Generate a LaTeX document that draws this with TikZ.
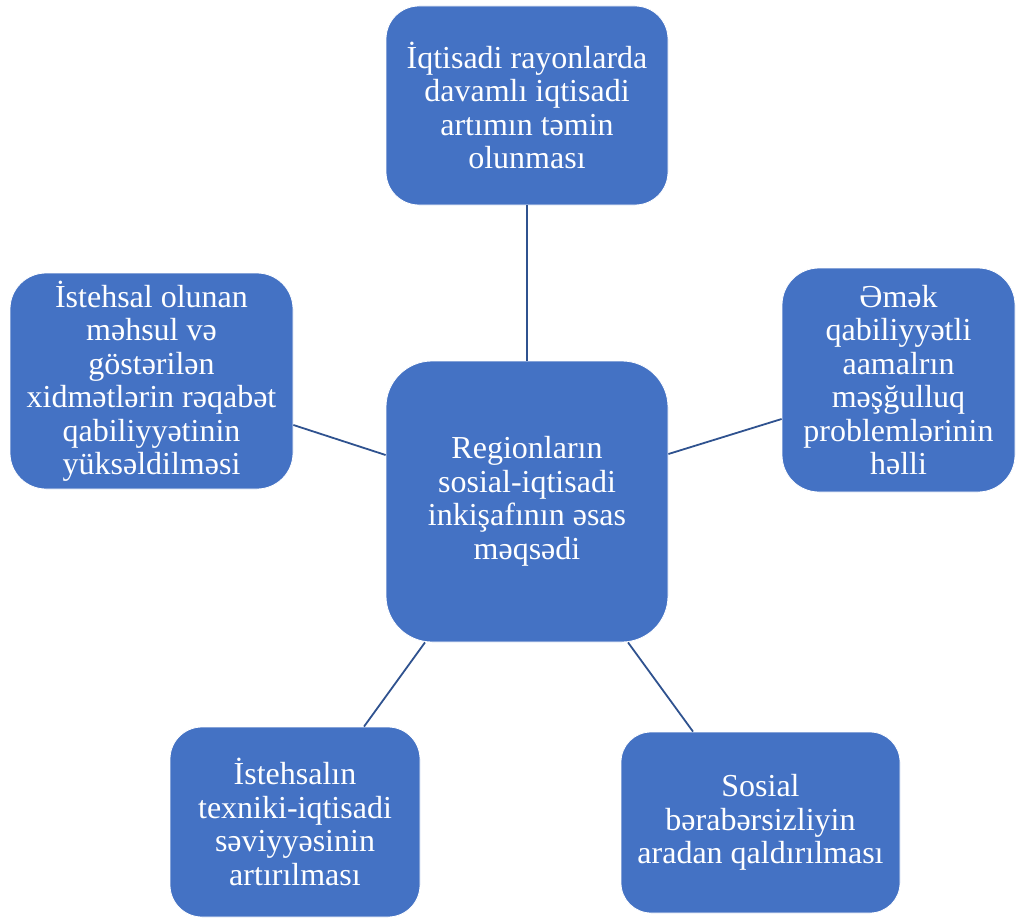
\documentclass[tikz,border=0pt]{standalone}
\usepackage{fontspec}
\setmainfont{Liberation Serif}
\definecolor{boxblue}{HTML}{4472C4}
\definecolor{linkblue}{HTML}{2F528F}
\tikzset{
  goal/.style={rectangle, fill=boxblue, draw=white, line width=0.8pt, text=white, align=center, inner sep=0pt, font=\fontsize{32}{33.5}\selectfont},  % blue rounded box
  link/.style={draw=linkblue, line width=1.8pt}  % plain connector
}

\begin{document}
\begin{tikzpicture}[x=1pt, y=-1pt]  % one unit is one pixel of the reference, y downwards
    \useasboundingbox (0,0) rectangle (1016,920);  % page size
    \node[goal, minimum width=282pt, minimum height=281pt, rounded corners=46pt] (core) at (527,501.5) {Regionların\\sosial-iqtisadi\\inkişafının əsas\\məqsədi};  % central box
    \node[goal, minimum width=282pt, minimum height=199pt, rounded corners=33pt] (top) at (527,105.5) {İqtisadi rayonlarda\\davamlı iqtisadi\\artımın təmin\\olunması};
    \node[goal, minimum width=283pt, minimum height=216pt, rounded corners=36pt] (lft) at (151.5,381) {İstehsal olunan\\məhsul və\\göstərilən\\xidmətlərin rəqabət\\qabiliyyətinin\\yüksəldilməsi};
    \node[goal, minimum width=233pt, minimum height=224pt, rounded corners=37pt] (rgt) at (898.5,380) {Əmək\\qabiliyyətli\\aamalrın\\məşğulluq\\problemlərinin\\həlli};
    \node[goal, minimum width=250pt, minimum height=190pt, rounded corners=32pt] (botl) at (295,822) {İstehsalın\\texniki-iqtisadi\\səviyyəsinin\\artırılması};
    \node[goal, minimum width=279pt, minimum height=181pt, rounded corners=30pt] (botr) at (760.5,822.5) {Sosial\\bərabərsizliyin\\aradan qaldırılması};

    \draw[link] (top.south) -- (core.north);  % connectors
    \draw[link] ([yshift=-44pt]lft.east) -- ([yshift=46.5pt]core.west);
    \draw[link] ([yshift=47.5pt]core.east) -- ([yshift=-39pt]rgt.west);
    \draw[link] ([xshift=-102pt]core.south) -- ([xshift=69pt]botl.north);
    \draw[link] ([xshift=101pt]core.south) -- ([xshift=-67.5pt]botr.north);
\end{tikzpicture}
\end{document}
